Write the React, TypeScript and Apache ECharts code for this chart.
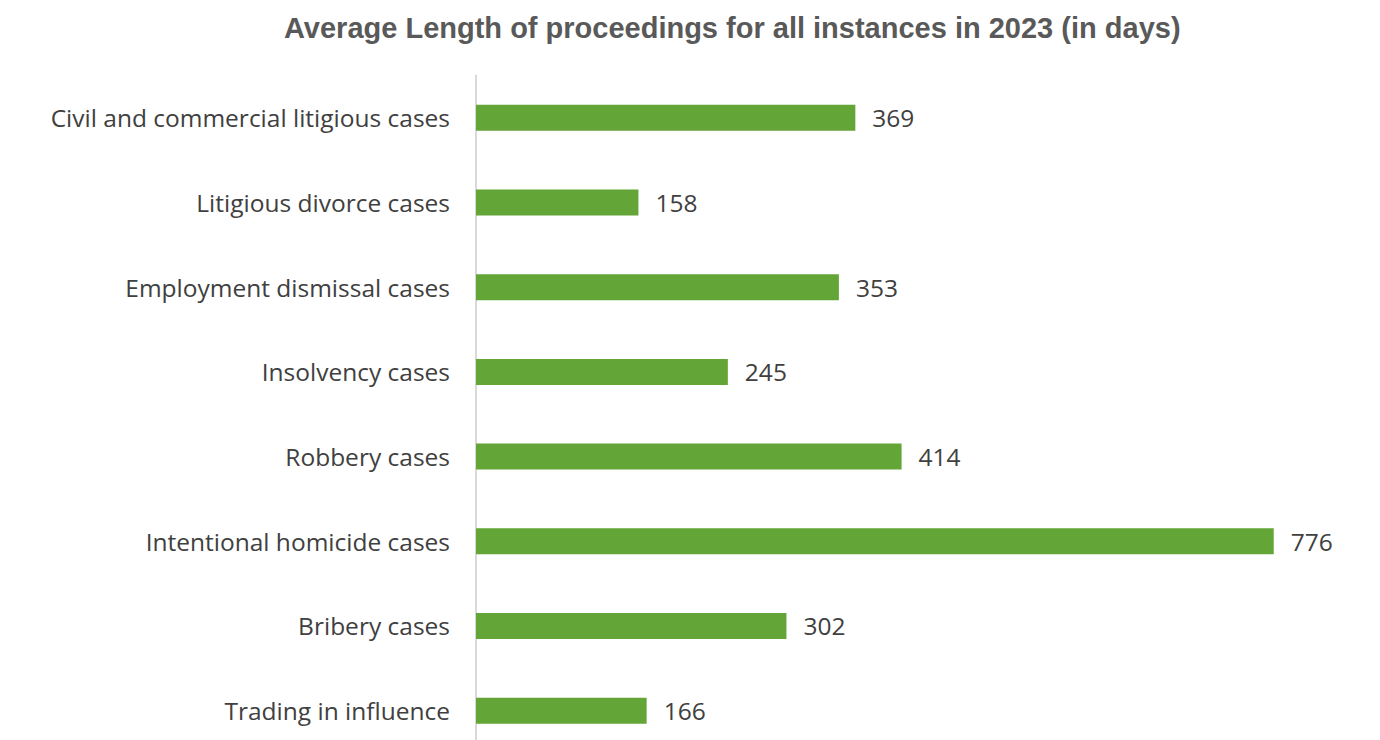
import React, { useEffect, useRef } from "react";
import * as echarts from "echarts";

const categories = [
  "Civil and commercial litigious cases",
  "Litigious divorce cases",
  "Employment dismissal cases",
  "Insolvency cases",
  "Robbery cases",
  "Intentional homicide cases",
  "Bribery cases",
  "Trading in influence",
];

const days = [369, 158, 353, 245, 414, 776, 302, 166];

const titleText = "Average Length of proceedings for all instances in 2023 (in days)";

export default function App() {
  const ref = useRef<HTMLDivElement>(null);

  useEffect(() => {
    if (!ref.current) return;
    const chart = echarts.init(ref.current, null, { renderer: "svg" });
    chart.setOption({
      animation: false,
      backgroundColor: "#ffffff",
      title: {
        text: titleText,
        left: 279,
        top: 8,
        textStyle: {
          fontFamily: "Liberation Sans",
          fontWeight: "bold",
          fontSize: 29,
          color: "#595959",
        },
      },
      grid: {
        left: 476,
        right: 81.6,
        top: 75.5,
        bottom: 0,
        containLabel: false,
      },
      xAxis: {
        type: "value",
        min: 0,
        max: 800,
        show: false,
        splitLine: { show: false },
      },
      yAxis: {
        type: "category",
        data: categories,
        inverse: true,
        axisLine: { show: true, lineStyle: { color: "#D9D9D9", width: 2 } },
        axisTick: { show: false },
        axisLabel: {
          margin: 26,
          fontFamily: "Open Sans",
          fontSize: 24.5,
          color: "#404040",
        },
      },
      series: [
        {
          type: "bar",
          data: days,
          barWidth: 26,
          itemStyle: { color: "#63A537" },
          label: {
            show: true,
            position: "right",
            distance: 17,
            fontFamily: "Open Sans",
            fontSize: 24.5,
            color: "#404040",
          },
        },
      ],
    });
    return () => chart.dispose();
  }, []);

  // The plot area runs a little past the visible frame at the bottom.
  return (
    <div
      style={{
        position: "absolute",
        left: 0,
        top: 0,
        width: 1380,
        height: 740,
        overflow: "hidden",
      }}
    >
      <div ref={ref} style={{ width: 1380, height: 752.5 }} />
    </div>
  );
}
